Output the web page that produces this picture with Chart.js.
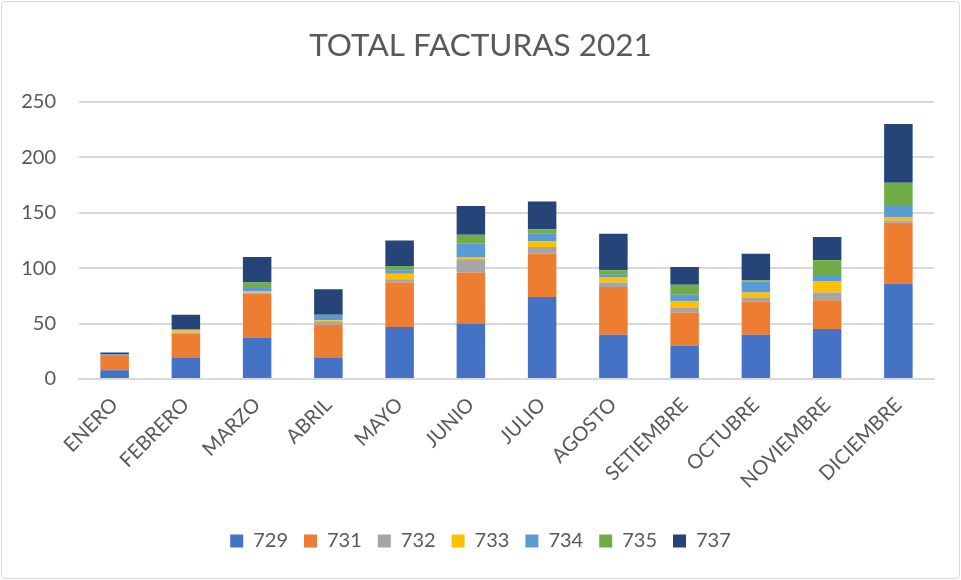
<!DOCTYPE html>
<html>
<head>
<meta charset="utf-8">
<script src="https://cdn.jsdelivr.net/npm/chart.js@4"></script>
<style>
  html, body { margin: 0; padding: 0; background: #fff; }
  #wrap { position: absolute; left: 1px; top: 1px; width: 957px; height: 576px; border: 1px solid #d9d9d9; border-radius: 4px; }
</style>
</head>
<body>
<div id="wrap"><canvas id="chart" width="957" height="576"></canvas></div>
<script>
// Totals per month, split by code
const months = ['ENERO', 'FEBRERO', 'MARZO', 'ABRIL', 'MAYO', 'JUNIO', 'JULIO', 'AGOSTO', 'SETIEMBRE', 'OCTUBRE', 'NOVIEMBRE', 'DICIEMBRE'];
const s729 = [8, 19, 37, 19, 47, 50, 74, 40, 30, 40, 45, 86];
const s731 = [13, 22, 40, 30, 40, 46, 39, 43, 30, 30, 26, 55];
const s732 = [0, 1, 1, 3, 3, 12, 6, 4, 4, 3, 7, 2];
const s733 = [0, 2, 1, 1, 5, 2, 5, 5, 6, 5, 10, 3];
const s734 = [1, 1, 3, 5, 3, 12, 7, 2, 6, 10, 5, 11];
const s735 = [0, 0, 5, 0, 4, 8, 4, 4, 9, 1, 14, 20];
const s737 = [2, 13, 23, 23, 23, 26, 25, 33, 16, 24, 21, 53];
const yTicks = [0, 50, 100, 150, 200, 250];

const textColor = '#595959';
const fontFamily = 'Lato, "Liberation Sans", sans-serif';

function series(label, data, color) {
    return {
        label: label,
        data: data,
        backgroundColor: color,
        borderWidth: 0,
        categoryPercentage: 1,
        barPercentage: 0.4
    };
}

new Chart(document.getElementById('chart').getContext('2d'), {
    type: 'bar',
    data: {
        labels: months,
        datasets: [
            series('729', s729, '#4472c4'),
            series('731', s731, '#ed7d31'),
            series('732', s732, '#a5a5a5'),
            series('733', s733, '#ffc000'),
            series('734', s734, '#5b9bd5'),
            series('735', s735, '#70ad47'),
            series('737', s737, '#264478')
        ]
    },
    options: {
        responsive: false,
        animation: false,
        layout: { padding: { left: 0, right: 0, top: 0, bottom: 17 } },
        scales: {
            x: {
                stacked: true,
                afterFit: axis => { axis.height = 136; },
                grid: { display: false, drawTicks: false },
                border: { color: '#d9d9d9', width: 2 },
                ticks: {
                    color: textColor,
                    font: { family: fontFamily, size: 20 },
                    minRotation: 45,
                    maxRotation: 45,
                    padding: 14
                }
            },
            y: {
                stacked: true,
                min: yTicks[0],
                max: yTicks[yTicks.length - 1],
                afterBuildTicks: axis => { axis.ticks = yTicks.map(v => ({ value: v })); },
                afterFit: axis => { axis.width = 77; },
                grid: { color: '#d9d9d9', lineWidth: 2, drawTicks: false },
                border: { display: false },
                ticks: {
                    color: textColor,
                    font: { family: fontFamily, size: 20 },
                    padding: 23
                }
            },
            // empty right margin so the title stays centred on the canvas
            yRight: {
                position: 'right',
                afterFit: axis => { axis.width = 25; },
                grid: { display: false, drawTicks: false },
                border: { display: false },
                ticks: { display: false }
            }
        },
        plugins: {
            title: {
                display: true,
                text: 'TOTAL FACTURAS 2021',
                color: textColor,
                font: { family: fontFamily, size: 31.5, weight: 'normal' },
                padding: { top: 25, bottom: 37 }
            },
            legend: {
                position: 'bottom',
                labels: {
                    color: textColor,
                    font: { family: fontFamily, size: 20 },
                    boxWidth: 13,
                    boxHeight: 13,
                    padding: 16
                }
            },
            tooltip: { enabled: false }
        }
    }
});
</script>
</body>
</html>
